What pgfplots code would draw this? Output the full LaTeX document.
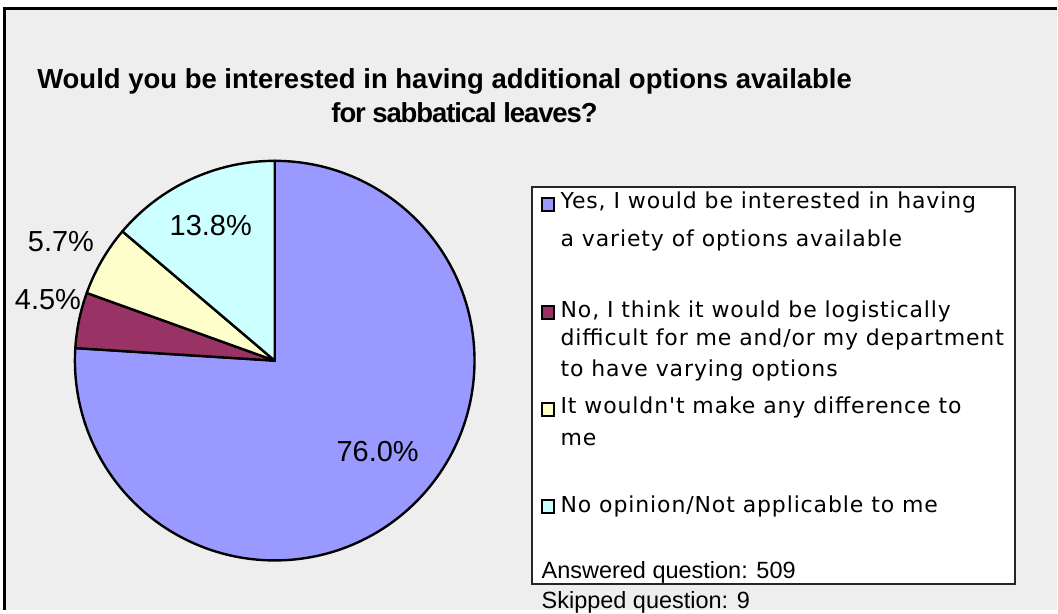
\documentclass[border=0pt]{standalone}
\usepackage{fontspec}
\setmainfont{Liberation Sans}
\newfontfamily\titlefont{Liberation Sans Bold}
\newfontfamily\titlefonttight[LetterSpace=-4]{Liberation Sans Bold}
\newfontfamily\legfont[LetterSpace=4]{DejaVu Sans}
\usepackage{pgfplots}
\pgfplotsset{compat=1.18}
\definecolor{bg}{HTML}{EEEEEE}
\definecolor{pieblue}{HTML}{9999FF}
\definecolor{piemaroon}{HTML}{993366}
\definecolor{pieyellow}{HTML}{FFFFCC}
\definecolor{piecyan}{HTML}{CCFFFF}
% slice values (percent)
\def\vA{76.0}\def\vB{4.5}\def\vC{5.7}\def\vD{13.8}
\begin{document}
\begin{tikzpicture}
\begin{axis}[
  width=1058bp, height=611bp, scale only axis,
  xmin=0, xmax=1058, ymin=0, ymax=611, y dir=reverse,
  hide axis, clip=false,
]
% frame and background
\fill[white] (axis cs:0,0) rectangle (axis cs:1058,611);
\fill[bg] (axis cs:4.5,8.5) rectangle (axis cs:1058,611);
\draw[black, line width=2.2bp] (axis cs:4.5,611) -- (axis cs:4.5,8.5) -- (axis cs:1058,8.5);
% title
\node[anchor=base, inner sep=0] at (axis cs:445,88.5) {\titlefont\fontsize{27.5bp}{32bp}\selectfont Would you be interested in having additional options available};
\node[anchor=base, inner sep=0] at (axis cs:465,122.5) {\titlefonttight\fontsize{27.5bp}{32bp}\selectfont for sabbatical leaves?};
% pie
\begin{scope}[line width=2.4bp, draw=black, line join=round]
\filldraw[fill=pieblue] (axis cs:275,361) -- ++(90:200bp) arc[start angle=90, end angle={90-\vA*3.6}, radius=200bp] -- cycle;
\filldraw[fill=piemaroon] (axis cs:275,361) -- ++({90-\vA*3.6}:200bp) arc[start angle={90-\vA*3.6}, end angle={90-(\vA+\vB)*3.6}, radius=200bp] -- cycle;
\filldraw[fill=pieyellow] (axis cs:275,361) -- ++({90-(\vA+\vB)*3.6}:200bp) arc[start angle={90-(\vA+\vB)*3.6}, end angle={90-(\vA+\vB+\vC)*3.6}, radius=200bp] -- cycle;
\filldraw[fill=piecyan] (axis cs:275,361) -- ++({90-(\vA+\vB+\vC)*3.6}:200bp) arc[start angle={90-(\vA+\vB+\vC)*3.6}, end angle={90-(\vA+\vB+\vC+\vD)*3.6}, radius=200bp] -- cycle;
\end{scope}
% pie labels
\tikzset{pl/.style={inner sep=0, font=\fontsize{29bp}{33bp}\selectfont}}
\node[pl] at (axis cs:378,452) {\vA\%};
\node[pl] at (axis cs:48,300) {\vB\%};
\node[pl] at (axis cs:61,242) {\vC\%};
\node[pl] at (axis cs:211,226) {\vD\%};
% legend box
\filldraw[fill=white, draw=black!85, line width=2bp] (axis cs:533,187) rectangle (axis cs:1016,585);
\begin{scope}[line width=2bp]
\filldraw[fill=pieblue] (axis cs:543,198) rectangle (axis cs:555,211);
\filldraw[fill=piemaroon] (axis cs:543,306) rectangle (axis cs:555,319);
\filldraw[fill=pieyellow] (axis cs:543,403) rectangle (axis cs:555,416);
\filldraw[fill=piecyan] (axis cs:543,501) rectangle (axis cs:555,514);
\end{scope}
\tikzset{lg/.style={anchor=base west, inner sep=0, font=\legfont\fontsize{22bp}{25bp}\selectfont}}
\node[lg] at (axis cs:561,209) {Yes, I would be interested in having};
\node[lg] at (axis cs:561,247) {a variety of options available};
\node[lg] at (axis cs:561,318) {No, I think it would be logistically};
\node[lg] at (axis cs:561,346) {difficult for me and/or my department};
\node[lg] at (axis cs:561,377) {to have varying options};
\node[lg] at (axis cs:561,414) {It wouldn't make any difference to};
\node[lg] at (axis cs:561,446) {me};
\node[lg] at (axis cs:561,513) {No opinion/Not applicable to me};
\node[anchor=base west, inner sep=0, font=\fontsize{23.5bp}{27bp}\selectfont] at (axis cs:542,579) {Answered question: 509};
\node[anchor=base west, inner sep=0, font=\fontsize{23.5bp}{27bp}\selectfont] at (axis cs:542,609) {Skipped question: 9};
\end{axis}
\end{tikzpicture}
\end{document}
